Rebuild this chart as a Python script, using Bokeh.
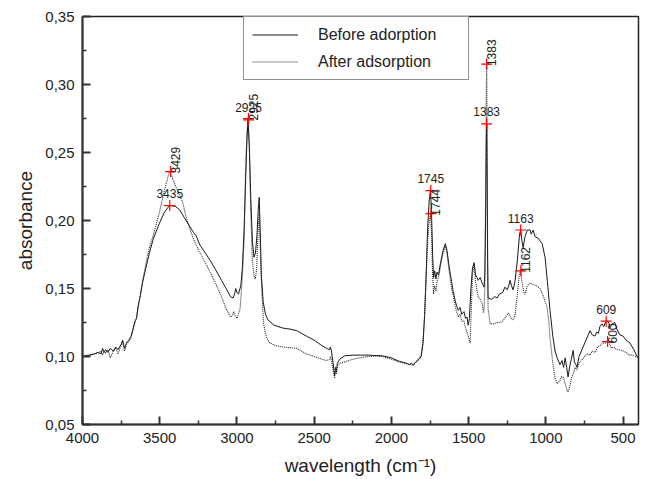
from bokeh.plotting import figure
from bokeh.models import (Range1d, FixedTicker, CustomJSTickFormatter, Legend,
                          LegendItem, ColumnDataSource)
from bokeh.core.properties import value
from bokeh.embed import file_html
from bokeh.resources import INLINE
import math

# ---------------- data ----------------
before_x = [4000, 3960, 3930, 3900, 3880, 3870, 3860, 3850, 3835, 3820, 3800, 3785, 3770, 3750,
            3740, 3728, 3715, 3700, 3685, 3676, 3660, 3650, 3640, 3625, 3610, 3590, 3567, 3540,
            3502, 3470, 3437, 3400, 3372, 3340, 3308, 3280, 3265, 3240, 3204, 3170, 3139, 3100,
            3075, 3042, 3025, 3015, 3008, 3000, 2990, 2975, 2965, 2955, 2945, 2935, 2928, 2920,
            2910, 2900, 2890, 2880, 2870, 2862, 2856, 2850, 2842, 2830, 2815, 2800, 2760, 2706,
            2650, 2613, 2550, 2500, 2450, 2420, 2400, 2395, 2388, 2375, 2368, 2362, 2356, 2350,
            2335, 2303, 2250, 2200, 2150, 2100, 2058, 2000, 1950, 1900, 1884, 1870, 1860, 1840,
            1820, 1807, 1795, 1785, 1775, 1765, 1755, 1747, 1740, 1733, 1727, 1720, 1712, 1705,
            1695, 1680, 1665, 1651, 1640, 1625, 1610, 1600, 1585, 1567, 1555, 1545, 1530, 1520,
            1510, 1503, 1495, 1485, 1475, 1464, 1455, 1445, 1438, 1425, 1412, 1400, 1395, 1390,
            1386, 1383, 1380, 1377, 1374, 1350, 1330, 1316, 1300, 1280, 1265, 1251, 1240, 1232,
            1222, 1212, 1200, 1185, 1170, 1163, 1155, 1147, 1135, 1120, 1102, 1095, 1082, 1069,
            1050, 1037, 1024, 1005, 990, 973, 955, 940, 927, 908, 895, 885, 875, 865, 856, 845,
            835, 823, 815, 805, 798, 785, 770, 759, 740, 725, 714, 700, 682, 670, 660, 650, 637,
            625, 611, 600, 590, 585, 570, 553, 540, 521, 500, 480, 456, 430, 410, 400]
before_y = [0.100, 0.101, 0.1015, 0.103, 0.102, 0.106, 0.103, 0.105, 0.103, 0.106, 0.104, 0.107,
            0.105, 0.109, 0.112, 0.106, 0.110, 0.112, 0.115, 0.119, 0.126, 0.128, 0.137, 0.145,
            0.155, 0.165, 0.176, 0.187, 0.198, 0.206, 0.211, 0.2105, 0.208, 0.202, 0.196, 0.191,
            0.189, 0.182, 0.176, 0.170, 0.164, 0.156, 0.151, 0.144, 0.143, 0.146, 0.150, 0.147,
            0.146, 0.152, 0.165, 0.19, 0.225, 0.26, 0.274, 0.255, 0.215, 0.185, 0.173, 0.176,
            0.19, 0.208, 0.217, 0.195, 0.160, 0.140, 0.131, 0.127, 0.123, 0.121, 0.120, 0.119,
            0.115, 0.112, 0.108, 0.106, 0.105, 0.107, 0.104, 0.093, 0.086, 0.092, 0.089, 0.095,
            0.098, 0.1005, 0.101, 0.101, 0.101, 0.1007, 0.1005, 0.099, 0.0965, 0.095, 0.094,
            0.095, 0.094, 0.096, 0.098, 0.100, 0.110, 0.130, 0.160, 0.195, 0.215, 0.222, 0.205,
            0.175, 0.158, 0.163, 0.157, 0.162, 0.160, 0.170, 0.178, 0.183, 0.178, 0.165, 0.155,
            0.148, 0.140, 0.134, 0.136, 0.131, 0.133, 0.128, 0.129, 0.123, 0.128, 0.150, 0.165,
            0.169, 0.160, 0.158, 0.156, 0.158, 0.154, 0.151, 0.160, 0.200, 0.250, 0.271, 0.230,
            0.170, 0.143, 0.142, 0.144, 0.143, 0.146, 0.147, 0.151, 0.149, 0.152, 0.156, 0.152,
            0.149, 0.155, 0.170, 0.190, 0.193, 0.185, 0.180, 0.188, 0.193, 0.193, 0.190, 0.193,
            0.188, 0.187, 0.185, 0.183, 0.173, 0.155, 0.134, 0.115, 0.104, 0.099, 0.094, 0.097,
            0.092, 0.099, 0.092, 0.085, 0.093, 0.098, 0.1045, 0.096, 0.094, 0.092, 0.100, 0.104,
            0.107, 0.112, 0.116, 0.119, 0.116, 0.115, 0.118, 0.117, 0.122, 0.124, 0.122, 0.126,
            0.126, 0.124, 0.121, 0.124, 0.125, 0.120, 0.116, 0.115, 0.112, 0.110, 0.105, 0.100,
            0.099]

after_x = [4000, 3960, 3930, 3900, 3880, 3870, 3860, 3850, 3835, 3820, 3800, 3785, 3770, 3750,
           3740, 3728, 3715, 3700, 3685, 3676, 3660, 3650, 3640, 3625, 3610, 3590, 3567, 3540,
           3528, 3500, 3470, 3437, 3420, 3400, 3372, 3353, 3330, 3308, 3280, 3243, 3200, 3170,
           3139, 3100, 3070, 3042, 3030, 3020, 3010, 3000, 2990, 2980, 2970, 2960, 2952, 2945,
           2935, 2928, 2920, 2910, 2900, 2890, 2881, 2872, 2862, 2856, 2850, 2840, 2828, 2816,
           2800, 2787, 2750, 2706, 2613, 2550, 2500, 2450, 2420, 2400, 2395, 2388, 2375, 2368,
           2362, 2356, 2350, 2335, 2303, 2250, 2200, 2150, 2100, 2058, 2000, 1950, 1900, 1884,
           1870, 1860, 1840, 1820, 1807, 1795, 1785, 1775, 1765, 1755, 1747, 1740, 1733, 1727,
           1720, 1712, 1705, 1695, 1680, 1665, 1651, 1640, 1625, 1610, 1600, 1585, 1567, 1555,
           1545, 1530, 1520, 1505, 1490, 1484, 1475, 1464, 1455, 1445, 1438, 1425, 1412, 1404,
           1400, 1395, 1390, 1386, 1383, 1380, 1377, 1374, 1360, 1340, 1316, 1296, 1280, 1260,
           1244, 1230, 1212, 1200, 1185, 1172, 1163, 1155, 1140, 1134, 1120, 1102, 1085, 1060,
           1037, 1015, 992, 980, 973, 955, 940, 927, 910, 900, 888, 875, 865, 856, 845, 835, 823,
           810, 800, 785, 770, 750, 733, 715, 700, 680, 665, 649, 630, 612, 600, 590, 575, 560,
           540, 521, 500, 480, 460, 437, 420, 400]
after_y = [0.100, 0.1005, 0.102, 0.1025, 0.104, 0.101, 0.104, 0.1025, 0.105, 0.099, 0.104, 0.106,
           0.102, 0.108, 0.111, 0.104, 0.109, 0.111, 0.114, 0.118, 0.125, 0.129, 0.136, 0.146,
           0.156, 0.168, 0.180, 0.190, 0.195, 0.207, 0.222, 0.236, 0.232, 0.226, 0.219, 0.214,
           0.203, 0.195, 0.186, 0.177, 0.168, 0.161, 0.154, 0.144, 0.135, 0.129, 0.130, 0.133,
           0.130, 0.128, 0.131, 0.135, 0.150, 0.170, 0.190, 0.235, 0.265, 0.275, 0.255, 0.205,
           0.170, 0.160, 0.157, 0.165, 0.195, 0.205, 0.185, 0.150, 0.125, 0.117, 0.112, 0.110,
           0.108, 0.107, 0.106, 0.102, 0.100, 0.098, 0.097, 0.098, 0.100, 0.097, 0.088, 0.084,
           0.090, 0.087, 0.093, 0.095, 0.096, 0.098, 0.099, 0.100, 0.1002, 0.100, 0.098, 0.096,
           0.0945, 0.094, 0.0945, 0.093, 0.096, 0.099, 0.101, 0.112, 0.130, 0.158, 0.185, 0.200,
           0.205, 0.190, 0.160, 0.146, 0.152, 0.148, 0.155, 0.158, 0.168, 0.176, 0.181, 0.176,
           0.162, 0.150, 0.145, 0.136, 0.129, 0.131, 0.126, 0.126, 0.121, 0.116, 0.110, 0.130,
           0.160, 0.168, 0.155, 0.148, 0.144, 0.142, 0.139, 0.132, 0.135, 0.150, 0.220, 0.290,
           0.315, 0.260, 0.180, 0.135, 0.124, 0.124, 0.125, 0.125, 0.126, 0.129, 0.132, 0.129,
           0.127, 0.130, 0.145, 0.160, 0.163, 0.155, 0.146, 0.146, 0.152, 0.154, 0.153, 0.152,
           0.150, 0.144, 0.136, 0.125, 0.114, 0.095, 0.084, 0.080, 0.082, 0.085, 0.085, 0.080,
           0.076, 0.074, 0.078, 0.084, 0.087, 0.092, 0.090, 0.095, 0.097, 0.100, 0.102, 0.101,
           0.104, 0.103, 0.107, 0.108, 0.110, 0.110, 0.112, 0.110, 0.106, 0.107, 0.105, 0.105,
           0.104, 0.103, 0.101, 0.101, 0.100, 0.099]

before_peak_x = [3435, 2925, 1745, 1383, 1163, 609]
before_peak_y = [0.211, 0.274, 0.222, 0.271, 0.193, 0.126]
before_peak_label = ["3435", "2925", "1745", "1383", "1163", "609"]

after_peak_x = [3429, 2925, 1744, 1383, 1162, 600]
after_peak_y = [0.236, 0.275, 0.205, 0.315, 0.163, 0.111]
after_peak_label = ["3429", "2925", "1744", "1383", "1162", "600"]

x_ticks = [4000, 3500, 3000, 2500, 2000, 1500, 1000, 500]
x_minor = [3750, 3250, 2750, 2250, 1750, 1250, 750]
y_ticks = [0.05, 0.10, 0.15, 0.20, 0.25, 0.30, 0.35]
y_minor = [0.075, 0.125, 0.175, 0.225, 0.275, 0.325]

FONT = "Liberation Sans"

# ---------------- figure ----------------
p = figure(width=650, height=479, output_backend="svg", toolbar_location=None,
           x_range=Range1d(4000, 400), y_range=Range1d(0.05, 0.35),
           min_border_left=82, min_border_right=12, min_border_top=16,
           min_border_bottom=55)
p.grid.visible = False
p.outline_line_color = "#222222"
p.outline_line_width = 1.5
p.background_fill_color = "white"
p.border_fill_color = "white"

for ax in (p.xaxis[0], p.yaxis[0]):
    ax.axis_line_width = 2
    ax.axis_line_color = "#333333"
    ax.major_tick_in = 8
    ax.major_tick_out = 0
    ax.minor_tick_in = 4
    ax.minor_tick_out = 0
    ax.major_tick_line_width = 2
    ax.major_tick_line_color = "#333333"
    ax.minor_tick_line_width = 1.5
    ax.minor_tick_line_color = "#333333"
    ax.major_label_text_font = FONT
    ax.major_label_text_font_size = "15px"
    ax.major_label_text_color = "#222222"
    ax.axis_label_text_font = FONT
    ax.axis_label_text_font_size = "19px"
    ax.axis_label_text_font_style = "normal"
    ax.axis_label_text_color = "#222222"

p.xaxis[0].ticker = FixedTicker(ticks=x_ticks, minor_ticks=x_minor)
p.yaxis[0].ticker = FixedTicker(ticks=y_ticks, minor_ticks=y_minor)
p.yaxis[0].formatter = CustomJSTickFormatter(code="return tick.toFixed(2).replace('.', ',');")
p.xaxis[0].major_label_standoff = 8
p.yaxis[0].major_label_standoff = 8
p.xaxis[0].axis_label = "wavelength (cm\u207b\u00b9)"
p.yaxis[0].axis_label = "absorbance"
p.xaxis[0].axis_label_standoff = 9
p.yaxis[0].axis_label_standoff = 6

r1 = p.line(before_x, before_y, line_color="#1a1a1a", line_width=1.0)
r2 = p.line(after_x, after_y, line_color="#2a2a2a", line_width=1.1, line_dash="1 1")

# peak markers
p.scatter(before_peak_x, before_peak_y, marker="cross", size=11, line_color="red", line_width=1.2)
p.scatter(after_peak_x, after_peak_y, marker="cross", size=11, line_color="red", line_width=1.2)

src_b = ColumnDataSource(dict(x=before_peak_x, y=before_peak_y, t=before_peak_label))
src_a = ColumnDataSource(dict(x=after_peak_x, y=after_peak_y, t=after_peak_label))
p.text(x="x", y="y", text="t", source=src_b, text_font=value(FONT),
       text_font_size=value("12px"), text_align="center", text_baseline="middle",
       y_offset=-12, text_color="#222222")
p.text(x="x", y="y", text="t", source=src_a, text_font=value(FONT),
       text_font_size=value("12px"), text_align="left", text_baseline="middle",
       angle=math.pi / 2, x_offset=5, y_offset=2, text_color="#222222")

legend = Legend(items=[LegendItem(label="Before adorption", renderers=[r1]),
                       LegendItem(label="After adsorption", renderers=[r2])],
                location=(161, 344))
legend.border_line_color = "#222222"
legend.border_line_width = 1
legend.background_fill_color = "white"
legend.background_fill_alpha = 1
legend.label_text_font = FONT
legend.label_text_font_size = "16px"
legend.label_text_color = "#222222"
legend.glyph_width = 46
legend.glyph_height = 19
legend.spacing = 8
legend.padding = 8
legend.margin = 0
legend.label_standoff = 20
legend.label_width = 142
legend.background_fill_alpha = 1
p.add_layout(legend)
p.renderers.remove(r1) if False else None

open("out.html", "w").write(file_html(p, INLINE))
